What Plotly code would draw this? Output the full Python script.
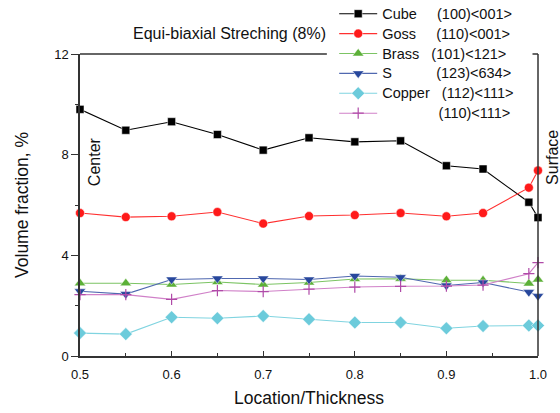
import plotly.graph_objects as go

x = [0.5, 0.55, 0.6, 0.65, 0.7, 0.75, 0.8, 0.85, 0.9, 0.94, 0.99, 1.0]
cube = [9.80, 8.97, 9.31, 8.80, 8.18, 8.67, 8.51, 8.55, 7.56, 7.43, 6.11, 5.50]
goss = [5.68, 5.52, 5.55, 5.72, 5.26, 5.56, 5.60, 5.68, 5.55, 5.68, 6.69, 7.37]
brass = [2.89, 2.89, 2.84, 2.94, 2.84, 2.92, 3.06, 3.07, 3.01, 3.01, 2.88, 3.04]
s_comp = [2.57, 2.46, 3.04, 3.08, 3.08, 3.04, 3.18, 3.13, 2.80, 2.92, 2.54, 2.38]
copper = [0.91, 0.87, 1.54, 1.50, 1.59, 1.46, 1.33, 1.33, 1.10, 1.19, 1.21, 1.21]
c110_111 = [2.44, 2.44, 2.25, 2.60, 2.56, 2.66, 2.74, 2.77, 2.78, 2.82, 3.27, 3.71]

nb = "&nbsp;"
labels = [
    "Cube" + nb * 5 + "(100)&lt;001&gt;",
    "Goss" + nb * 5 + "(110)&lt;001&gt;",
    "Brass" + nb * 3 + "(101)&lt;121&gt;",
    "S" + nb * 11 + "(123)&lt;634&gt;",
    "Copper" + nb * 3 + "(112)&lt;111&gt;",
    nb * 14 + "(110)&lt;111&gt;",
]
names = ['<span style="font-size:14.5px">' + t + "</span>" for t in labels]

FONT = "Arial, Liberation Sans, sans-serif"

series = [
    (cube, names[0], "#000000", "#000000", "square", 8),
    (goss, names[1], "#ff3030", "#ff1a1a", "circle", 9),
    (brass, names[2], "#7cc464", "#5cb038", "triangle-up", 10),
    (s_comp, names[3], "#5068b0", "#27479c", "triangle-down", 10),
    (copper, names[4], "#80d4e0", "#6ccbdb", "diamond", 10),
    (c110_111, names[5], "#d080c8", "#b04aa8", "cross-thin", 8),
]

fig = go.Figure()
for ys, name, lc, mc, sym, sz in series:
    marker = dict(symbol=sym, size=sz, color=mc)
    if sym == "cross-thin":
        marker["line"] = dict(color=mc, width=1.2)
    else:
        marker["line"] = dict(color="white", width=0.5)
    fig.add_trace(go.Scatter(
        x=x, y=ys, name=name, mode="lines+markers",
        line=dict(color=lc, width=1.1), marker=marker, cliponaxis=False,
    ))

axis_col = "#333333"
fig.update_layout(
    width=560, height=413,
    margin=dict(l=80, r=22, t=54, b=57, autoexpand=False),
    plot_bgcolor="white", paper_bgcolor="white",
    font=dict(family=FONT, size=13, color="#111111"),
    showlegend=True,
    legend=dict(
        x=0.555, y=1.183, xanchor="left", yanchor="top",
        bgcolor="rgba(0,0,0,0)", font=dict(size=13, family=FONT),
        itemwidth=38, tracegroupgap=0,
    ),
    xaxis=dict(
        range=[0.5, 1.0], dtick=0.1, tick0=0.5, tickformat=".1f",
        showgrid=False, zeroline=False, showline=True, linecolor=axis_col, linewidth=1.5,
        ticks="inside", ticklen=5, tickcolor=axis_col, ticklabelstandoff=6,
        minor=dict(ticks="inside", ticklen=3, dtick=0.05, tickcolor=axis_col),
        title=dict(text="Location/Thickness", font=dict(size=17.5), standoff=10),
        tickfont=dict(size=13),
    ),
    yaxis=dict(
        range=[0, 12], dtick=4, tick0=0,
        showgrid=False, zeroline=False, showline=True, linecolor=axis_col, linewidth=1.5,
        ticks="outside", ticklen=7, tickcolor=axis_col,
        minor=dict(ticks="outside", ticklen=3, dtick=2, tickcolor=axis_col),
        title=dict(text="Volume fraction, %", font=dict(size=17.5), standoff=21),
        tickfont=dict(size=13),
    ),
    annotations=[
        dict(text="Equi-biaxial Streching (8%)", xref="paper", yref="paper",
             x=0.541, y=1.0695, xanchor="right", yanchor="middle", showarrow=False,
             font=dict(size=16)),
        dict(text="Center", xref="paper", yref="paper", x=0.0306, y=0.642,
             xanchor="center", yanchor="middle",
             textangle=-90, showarrow=False, font=dict(size=16)),
        dict(text="Surface", xref="paper", yref="paper", x=1.0328, y=0.656,
             xanchor="center", yanchor="middle",
             textangle=-90, showarrow=False, font=dict(size=16)),
    ],
    shapes=[
        dict(type="line", xref="paper", yref="paper", x0=0, x1=0.539, y0=1, y1=1,
             line=dict(color=axis_col, width=1.5)),
        dict(type="line", xref="paper", yref="paper", x0=1, x1=1, y0=0, y1=1,
             line=dict(color=axis_col, width=1.5)),
        dict(type="line", xref="paper", yref="paper", x0=0.988, x1=1, y0=1, y1=1,
             line=dict(color=axis_col, width=1.5)),
    ],
)

fig.write_html("out.html")
